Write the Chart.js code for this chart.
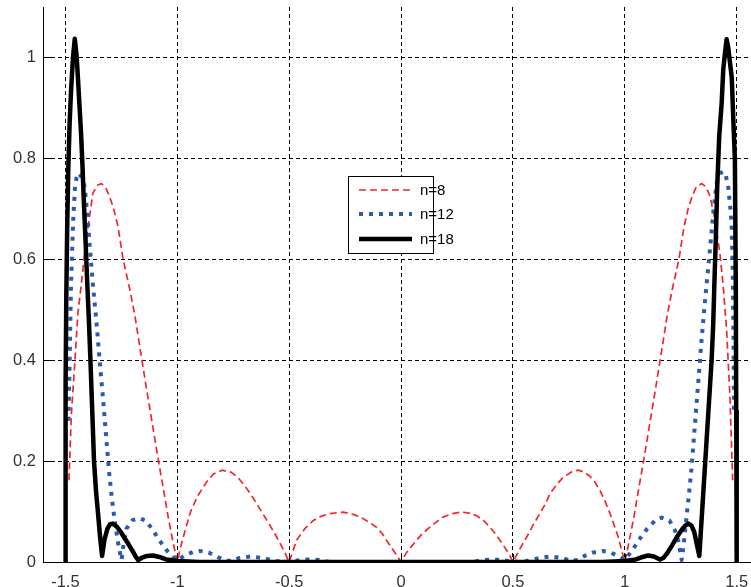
<!DOCTYPE html>
<html>
<head>
<meta charset="utf-8">
<script src="https://cdn.jsdelivr.net/npm/chart.js@4/dist/chart.umd.min.js"></script>
<style>
  html, body { margin: 0; padding: 0; background: #fff; }
  #chart { display: block; }
</style>
</head>
<body>
<canvas id="chart" width="751" height="587"></canvas>
<script>
// tick positions
const xTicks = [-1.5, -1, -0.5, 0, 0.5, 1, 1.5];
const yTicks = [0, 0.2, 0.4, 0.6, 0.8, 1];

// n=8 (red dashed)
const n8X = [-1.484, -1.473, -1.458, -1.444, -1.428, -1.414, -1.394, -1.377, -1.358, -1.339, -1.32, -1.302, -1.283, -1.265, -1.242, -1.212, -1.19, -1.167, -1.138, -1.108, -1.086, -1.064, -1.041, -1.019, -1.0,
  -0.985, -0.96, -0.94, -0.91, -0.87, -0.84, -0.80, -0.76, -0.73, -0.70, -0.67, -0.64, -0.615, -0.585, -0.555, -0.525, -0.5,
  -0.467, -0.43, -0.393, -0.355, -0.318, -0.259, -0.21, -0.169, -0.14, -0.11, -0.085, -0.065, -0.045, -0.028, 0,
  0.025, 0.045, 0.069, 0.095, 0.129, 0.16, 0.188, 0.23, 0.27, 0.305, 0.337, 0.37, 0.397, 0.42, 0.442, 0.465, 0.486, 0.5,
  0.53, 0.561, 0.59, 0.62, 0.645, 0.665, 0.695, 0.725, 0.76, 0.792, 0.82, 0.844, 0.867, 0.889, 0.91, 0.934, 0.955, 0.971, 0.985, 1.0,
  1.019, 1.041, 1.064, 1.086, 1.108, 1.138, 1.167, 1.19, 1.212, 1.242, 1.265, 1.283, 1.302, 1.32, 1.344, 1.362, 1.381, 1.403, 1.425, 1.44, 1.455, 1.47, 1.482];
const n8Y = [0.162, 0.295, 0.394, 0.493, 0.553, 0.612, 0.678, 0.731, 0.746, 0.75, 0.742, 0.724, 0.698, 0.665, 0.6, 0.54, 0.49, 0.425, 0.345, 0.265, 0.205, 0.15, 0.09, 0.04, 0,
  0.03, 0.07, 0.1, 0.13, 0.158, 0.174, 0.182, 0.178, 0.168, 0.152, 0.133, 0.112, 0.094, 0.072, 0.049, 0.024, 0,
  0.043, 0.066, 0.082, 0.091, 0.096, 0.099, 0.094, 0.086, 0.078, 0.069, 0.057, 0.043, 0.03, 0.019, 0,
  0.019, 0.03, 0.043, 0.056, 0.069, 0.08, 0.089, 0.096, 0.099, 0.097, 0.092, 0.082, 0.069, 0.057, 0.043, 0.028, 0.013, 0,
  0.025, 0.049, 0.073, 0.096, 0.115, 0.135, 0.153, 0.168, 0.178, 0.182, 0.178, 0.17, 0.158, 0.142, 0.122, 0.096, 0.07, 0.049, 0.025, 0,
  0.04, 0.09, 0.15, 0.205, 0.265, 0.345, 0.425, 0.49, 0.54, 0.6, 0.665, 0.7, 0.726, 0.744, 0.75, 0.744, 0.725, 0.678, 0.612, 0.546, 0.46, 0.327, 0.162];

// n=12 (blue dotted)
const n12X = [-1.486, -1.48, -1.475, -1.47, -1.465, -1.457, -1.45, -1.443, -1.43, -1.414, -1.402, -1.39, -1.377, -1.362, -1.347, -1.332, -1.318, -1.305, -1.292, -1.279, -1.266, -1.256, -1.249,
  -1.24, -1.227, -1.2, -1.17, -1.14, -1.11, -1.08, -1.045, -1.015, -1.0, -0.97, -0.93, -0.9, -0.86, -0.82, -0.79, -0.76, -0.72, -0.67, -0.62, -0.57, -0.53, -0.48, -0.42, -0.37, -0.32,
  0, 0.32, 0.37, 0.42, 0.48, 0.53, 0.57, 0.62, 0.67, 0.72, 0.76, 0.79, 0.82, 0.86, 0.9, 0.93, 0.97, 1.0,
  1.038, 1.07, 1.1, 1.135, 1.165, 1.2, 1.224, 1.24, 1.254,
  1.262, 1.276, 1.288, 1.299, 1.313, 1.328, 1.343, 1.358, 1.372, 1.385, 1.397, 1.41, 1.425, 1.44, 1.452, 1.462, 1.472, 1.478, 1.483, 1.486, 1.488];
const n12Y = [0.28, 0.42, 0.546, 0.613, 0.678, 0.744, 0.762, 0.771, 0.765, 0.744, 0.69, 0.62, 0.55, 0.48, 0.40, 0.325, 0.25, 0.18, 0.125, 0.08, 0.042, 0.018, 0.004,
  0.035, 0.066, 0.083, 0.087, 0.082, 0.064, 0.043, 0.022, 0.008, 0.003, 0.012, 0.02, 0.022, 0.019, 0.01, 0.004, 0.002, 0.008, 0.011, 0.008, 0.003, 0, 0.002, 0.005, 0.004, 0,
  0, 0, 0.004, 0.005, 0.002, 0, 0.003, 0.008, 0.011, 0.008, 0.002, 0.004, 0.012, 0.019, 0.022, 0.02, 0.012, 0.004,
  0.026, 0.048, 0.066, 0.082, 0.088, 0.082, 0.063, 0.04, 0.004,
  0.03, 0.09, 0.14, 0.19, 0.27, 0.355, 0.44, 0.515, 0.58, 0.64, 0.70, 0.75, 0.77, 0.774, 0.765, 0.744, 0.70, 0.66, 0.56, 0.42, 0.30];

// n=18 (black solid)
const n18X = [-1.5, -1.499, -1.496, -1.492, -1.487, -1.481, -1.474, -1.466, -1.458, -1.45, -1.444, -1.437, -1.43, -1.424, -1.418, -1.41, -1.403, -1.395, -1.388, -1.38, -1.372, -1.363, -1.354, -1.345, -1.336,
  -1.325, -1.312, -1.3, -1.287, -1.27, -1.25, -1.235, -1.219, -1.2, -1.185, -1.175, -1.16, -1.135, -1.108, -1.08, -1.05, -1.0, -0.9,
  0, 0.9, 1.0, 1.05, 1.08, 1.105, 1.13, 1.157, 1.172, 1.187, 1.21, 1.232, 1.255, 1.27, 1.284, 1.298, 1.31, 1.322, 1.333,
  1.343, 1.358, 1.373, 1.388, 1.395, 1.40, 1.407, 1.413, 1.422, 1.433, 1.44, 1.448, 1.455, 1.462, 1.47, 1.478, 1.485, 1.492, 1.496, 1.498, 1.5];
const n18Y = [0, 0.35, 0.52, 0.66, 0.78, 0.87, 0.94, 1.0, 1.037, 1.005, 0.96, 0.905, 0.85, 0.79, 0.72, 0.638, 0.56, 0.48, 0.40, 0.30, 0.20, 0.14, 0.096, 0.05, 0.012,
  0.045, 0.066, 0.075, 0.076, 0.07, 0.058, 0.047, 0.036, 0.022, 0.01, 0.004, 0.008, 0.012, 0.013, 0.01, 0.005, 0.002, 0,
  0, 0, 0.002, 0.005, 0.01, 0.013, 0.011, 0.005, 0.008, 0.016, 0.032, 0.049, 0.064, 0.072, 0.076, 0.072, 0.06, 0.035, 0.012,
  0.082, 0.188, 0.294, 0.40, 0.47, 0.546, 0.645, 0.744, 0.844, 0.91, 0.976, 1.01, 1.036, 1.02, 0.99, 0.96, 0.877, 0.797, 0.55, 0.3, 0];

const toPoints = (xs, ys) => xs.map((x, i) => ({ x, y: ys[i] }));

const FONT = '"Liberation Sans", Arial, sans-serif';

// inner tick marks + legend box (Matlab style)
const axisDecor = {
  id: 'axisDecor',
  afterDatasetsDraw(chart) {
    const { ctx, chartArea: a, scales } = chart;
    ctx.save();
    ctx.strokeStyle = '#000';
    ctx.lineWidth = 1;
    ctx.setLineDash([]);
    ctx.beginPath();
    yTicks.forEach((v) => {
      const y = Math.round(scales.y.getPixelForValue(v)) + 0.5;
      ctx.moveTo(a.left, y);
      ctx.lineTo(a.left + 8, y);
    });
    xTicks.forEach((v) => {
      const x = Math.round(scales.x.getPixelForValue(v)) + 0.5;
      ctx.moveTo(x, a.bottom);
      ctx.lineTo(x, a.bottom - 8);
    });
    ctx.stroke();

    // legend
    const bx = 348.5, by = 176.5, bw = 85, bh = 77;
    ctx.fillStyle = '#fff';
    ctx.fillRect(bx, by, bw, bh);
    ctx.strokeRect(bx, by, bw, bh);
    const rows = [190, 214, 239];
    ctx.font = '15px ' + FONT;
    ctx.textBaseline = 'middle';
    chart.data.datasets.forEach((ds, i) => {
      const y = rows[i];
      ctx.save();
      ctx.strokeStyle = ds.borderColor;
      ctx.lineWidth = ds.borderWidth;
      ctx.setLineDash(ds.borderDash || []);
      ctx.beginPath();
      ctx.moveTo(359, y);
      ctx.lineTo(412, y);
      ctx.stroke();
      ctx.restore();
      ctx.fillStyle = '#000';
      ctx.fillText(ds.label, 420, y + 1);
    });
    ctx.restore();
  }
};

const gridOpts = { color: '#000', lineWidth: 1, drawTicks: false };
const borderOpts = { display: true, color: '#000', width: 1, dash: [4, 3] };

new Chart(document.getElementById('chart'), {
  type: 'line',
  data: {
    datasets: [
      { label: 'n=8', data: toPoints(n8X, n8Y), borderColor: '#f0282d', borderWidth: 1.7, borderDash: [7, 4], borderJoinStyle: 'round', pointRadius: 0, tension: 0, order: 2 },
      { label: 'n=12', data: toPoints(n12X, n12Y), borderColor: '#2b5cab', borderWidth: 4, borderDash: [4, 6], borderJoinStyle: 'round', pointRadius: 0, tension: 0, order: 1 },
      { label: 'n=18', data: toPoints(n18X, n18Y), borderColor: '#000', borderWidth: 4.5, borderJoinStyle: 'round', pointRadius: 0, tension: 0, order: 0 }
    ]
  },
  options: {
    responsive: false,
    animation: false,
    devicePixelRatio: 1,
    layout: { padding: { top: 7, left: 0, right: 0, bottom: 0 } },
    plugins: { legend: { display: false }, tooltip: { enabled: false } },
    scales: {
      x: {
        type: 'linear',
        min: -1.6,
        max: 1.564,
        grid: gridOpts,
        border: borderOpts,
        afterBuildTicks: (s) => { s.ticks = xTicks.map((v) => ({ value: v })); },
        afterFit: (s) => { s.height = 25; s.paddingLeft = 0; s.paddingRight = 0; },
        ticks: { color: '#333', font: { family: FONT, size: 16.5 }, padding: 11, maxRotation: 0, callback: (v) => String(v) }
      },
      y: {
        type: 'linear',
        min: 0,
        max: 1.1,
        grid: gridOpts,
        border: borderOpts,
        afterBuildTicks: (s) => { s.ticks = yTicks.map((v) => ({ value: v })); },
        afterFit: (s) => { s.width = 43; s.paddingTop = 0; s.paddingBottom = 0; },
        ticks: { color: '#333', font: { family: FONT, size: 16.5 }, padding: 7, callback: (v) => String(v) }
      }
    }
  },
  plugins: [axisDecor]
});
</script>
</body>
</html>
